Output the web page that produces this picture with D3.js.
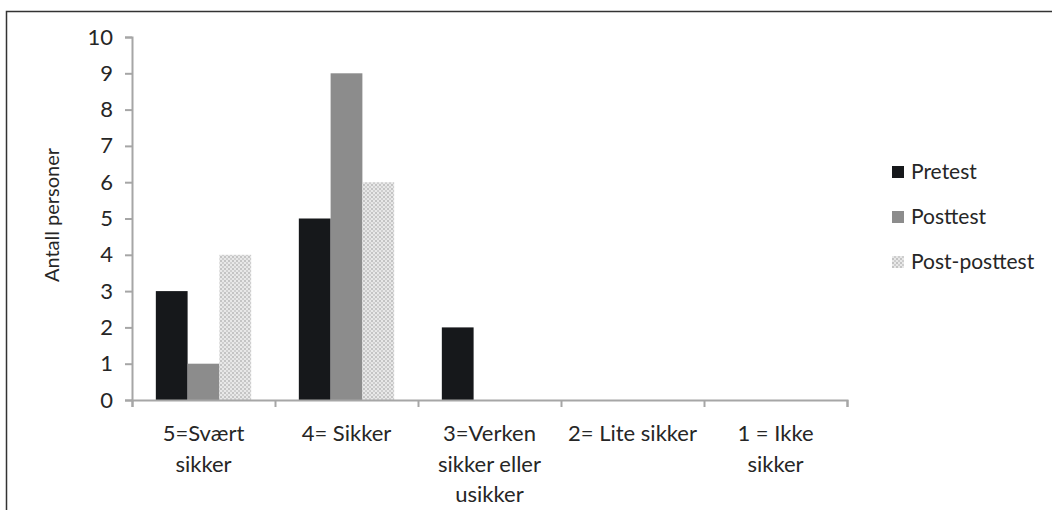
<!DOCTYPE html>
<html>
<head>
<meta charset="utf-8">
<script src="https://cdn.jsdelivr.net/npm/d3@7"></script>
<style>
  body { margin: 0; background: #fff; }
  text { font-family: Lato, "Open Sans", sans-serif; fill: #262626; }
</style>
</head>
<body>
<div id="chart"></div>
<script>
// DATA
var categories = ["5=Svært\nsikker", "4= Sikker", "3=Verken\nsikker eller\nusikker", "2= Lite sikker", "1 = Ikke\nsikker"];
var seriesNames = ["Pretest", "Posttest", "Post-posttest"];
var pretest = [3, 5, 2, 0, 0];
var posttest = [1, 9, 0, 0, 0];
var postPosttest = [4, 6, 0, 0, 0];
var yTicks = [0, 1, 2, 3, 4, 5, 6, 7, 8, 9, 10];

var seriesValues = [pretest, posttest, postPosttest];
var fills = ["#16181b", "#8c8c8c", "url(#dots)"];

// CHART SETUP
var W = 1052, H = 510;
var x0 = 132, x1 = 847, yTop = 37, yBottom = 400;

var svg = d3.select("#chart").append("svg")
  .attr("width", W).attr("height", H);

// pattern for post-posttest
var pat = svg.append("defs").append("pattern")
  .attr("id", "dots").attr("patternUnits", "userSpaceOnUse")
  .attr("width", 4).attr("height", 4);
pat.append("rect").attr("width", 4).attr("height", 4).attr("fill", "#e8e8e8");
pat.append("rect").attr("width", 2).attr("height", 2).attr("fill", "#c4c4c4");
pat.append("rect").attr("x", 2).attr("y", 2).attr("width", 2).attr("height", 2).attr("fill", "#cecece");

// outer frame
svg.append("rect")
  .attr("x", 6.5).attr("y", 11.5).attr("width", W + 20).attr("height", H + 20)
  .attr("fill", "none").attr("stroke", "#333").attr("stroke-width", 1.5);

var xScale = d3.scaleBand().domain(categories).range([x0, x1]);
var xInner = d3.scaleBand().domain(seriesNames)
  .range([0, xScale.bandwidth()]).paddingOuter(0.75).paddingInner(0);
var yScale = d3.scaleLinear().domain([0, 10]).range([yBottom, yTop]);

// BARS
var groups = svg.selectAll(".group")
  .data(categories)
  .enter().append("g")
  .attr("class", "group")
  .attr("transform", function (d) { return "translate(" + xScale(d) + ",0)"; });

groups.selectAll("rect")
  .data(function (d, i) {
    return seriesNames.map(function (s, j) { return { s: s, j: j, v: seriesValues[j][i] }; });
  })
  .enter().append("rect")
  .attr("x", function (d) { return xInner(d.s); })
  .attr("y", function (d) { return yScale(d.v); })
  .attr("width", xInner.bandwidth())
  .attr("height", function (d) { return yBottom - yScale(d.v); })
  .attr("fill", function (d) { return fills[d.j]; });

// Y AXIS
var yAxis = d3.axisLeft(yScale).tickValues(yTicks).tickSize(7).tickPadding(12);
var gy = svg.append("g").attr("transform", "translate(" + x0 + ",0)").call(yAxis);
gy.selectAll("text").style("font-size", "22px").attr("fill", "#262626");

// X AXIS
var xAxis = d3.axisBottom(d3.scaleLinear().domain([0, 5]).range([x0, x1]))
  .ticks(5).tickSize(7).tickFormat("");
svg.append("g").attr("transform", "translate(0," + yBottom + ")").call(xAxis);

svg.selectAll(".domain, .tick line").attr("stroke", "#a6a6a6").attr("stroke-width", 2);

// category labels
svg.selectAll(".cat")
  .data(categories)
  .enter().append("text")
  .attr("class", "cat")
  .attr("text-anchor", "middle")
  .style("font-size", "22px")
  .attr("transform", function (d) {
    return "translate(" + (xScale(d) + xScale.bandwidth() / 2) + ",441)";
  })
  .selectAll("tspan")
  .data(function (d) { return d.split("\n"); })
  .enter().append("tspan")
  .attr("x", 0)
  .attr("y", function (d, i) { return i * 30.5; })
  .text(function (d) { return d; });

// Y TITLE
svg.append("text")
  .attr("transform", "translate(59,215) rotate(-90)")
  .attr("text-anchor", "middle")
  .style("font-size", "20px")
  .text("Antall personer");

// LEGEND
var legend = svg.selectAll(".legend")
  .data(seriesNames)
  .enter().append("g")
  .attr("class", "legend")
  .attr("transform", function (d, i) { return "translate(892," + (172 + i * 45) + ")"; });

legend.append("rect")
  .attr("x", 0).attr("y", -6).attr("width", 12).attr("height", 12)
  .attr("fill", function (d, i) { return fills[i]; });

legend.append("text")
  .attr("x", 19).attr("dy", "0.35em")
  .style("font-size", "21px")
  .text(function (d) { return d; });
</script>
</body>
</html>
